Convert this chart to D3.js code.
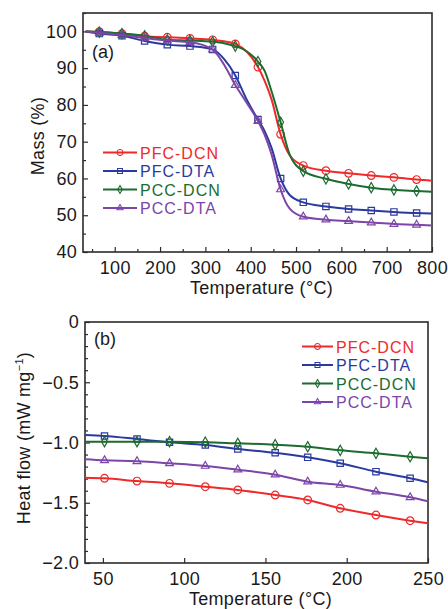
<!DOCTYPE html>
<html><head><meta charset="utf-8">
<script src="https://cdn.jsdelivr.net/npm/d3@7"></script>
<style>
html,body{margin:0;padding:0;background:#fff;}
text{font-family:"Liberation Sans",Arial,sans-serif;}
</style></head>
<body>
<svg id="chart" width="448" height="609"></svg>
<script>
// ---------- DATA ----------
const seriesNames = ["PFC-DCN", "PFC-DTA", "PCC-DCN", "PCC-DTA"];
const seriesColors = ["#ee2a2a", "#2a3a9f", "#1c6b2f", "#7c45a7"];
const seriesShapes = ["circle", "square", "diamond", "triangle"];

// Panel (a): TGA
const tempA = [36, 66, 116, 166, 216, 266, 316, 341, 366, 391, 416, 431, 446, 466, 486, 516, 566, 616, 666, 716, 766, 800];
const markerTempA = [66, 116, 166, 216, 266, 316, 366, 416, 466, 516, 566, 616, 666, 716, 766];
const massPFC_DCN = [100, 99.9, 99.4, 98.7, 98.4, 98.1, 97.7, 97.3, 96.6, 94.5, 90.3, 86.5, 81.5, 72.0, 66.3, 63.5, 62.1, 61.4, 60.8, 60.3, 59.7, 59.4];
const massPFC_DTA = [100, 99.4, 98.8, 97.4, 96.4, 96.0, 95.1, 92.5, 88.0, 81.5, 76.0, 72.8, 68.3, 60.0, 55.5, 53.5, 52.4, 51.7, 51.3, 50.9, 50.6, 50.5];
const massPCC_DCN = [100, 99.8, 99.4, 98.8, 97.7, 97.5, 97.2, 96.8, 96.0, 94.6, 91.8, 89.2, 83.7, 75.3, 66.5, 62.0, 59.9, 58.5, 57.5, 56.9, 56.6, 56.4];
const massPCC_DTA = [100, 99.6, 99.0, 98.2, 97.5, 97.1, 95.0, 91.0, 85.4, 80.6, 75.6, 71.8, 66.5, 57.0, 51.8, 49.6, 48.8, 48.4, 48.0, 47.6, 47.4, 47.2];
const xTicksA = [100, 200, 300, 400, 500, 600, 700, 800];
const yTicksA = [40, 50, 60, 70, 80, 90, 100];

// Panel (b): DSC
const tempB = [39, 51, 71, 91, 113, 133, 156, 176, 196, 218, 239, 250];
const markerTempB = [51, 71, 91, 113, 133, 156, 176, 196, 218, 239];
const heatPFC_DCN = [-1.292, -1.297, -1.320, -1.339, -1.367, -1.394, -1.436, -1.477, -1.546, -1.602, -1.649, -1.671];
const heatPFC_DTA = [-0.938, -0.946, -0.971, -0.998, -1.021, -1.054, -1.085, -1.123, -1.172, -1.242, -1.297, -1.330];
const heatPCC_DCN = [-0.993, -0.993, -0.993, -0.993, -0.997, -1.007, -1.018, -1.035, -1.065, -1.090, -1.118, -1.131];
const heatPCC_DTA = [-1.139, -1.148, -1.156, -1.173, -1.195, -1.226, -1.267, -1.325, -1.353, -1.408, -1.455, -1.488];
const xTicksB = [50, 100, 150, 200, 250];
const yTicksB = [-2.0, -1.5, -1.0, -0.5, 0];

// ---------- DRAW ----------
const svg = d3.select("#chart");
const FS = 18;
const LS = "0.3px";
const LEG_FS = 16;
const LEG_LS = "1px";
const frameColor = "#2b2b2b";

function symbolFor(shape, scale) {
  const map = {circle: [d3.symbolCircle, 46], square: [d3.symbolSquare, 40], diamond: [d3.symbolDiamond, 30], triangle: [d3.symbolTriangle, 26]};
  const m = map[shape];
  return d3.symbol().type(m[0]).size(m[1] * scale)();
}

function panel(cfg) {
  const x = d3.scaleLinear().domain(cfg.xDomain).range([cfg.left, cfg.right]);
  const y = d3.scaleLinear().domain(cfg.yDomain).range([cfg.bottom, cfg.top]);
  const g = svg.append("g");

  const xMajor = d3.axisBottom(x).tickValues(cfg.xTicks).tickSizeInner(-5).tickSizeOuter(0).tickPadding(9).tickFormat(cfg.xFmt);
  const gx = g.append("g").attr("transform", `translate(0,${cfg.bottom})`).call(xMajor);
  if (cfg.xMinor) {
    g.append("g").attr("transform", `translate(0,${cfg.bottom})`)
      .call(d3.axisBottom(x).tickValues(cfg.xMinor).tickSizeInner(-3).tickSizeOuter(0).tickFormat(""))
      .select(".domain").remove();
  }
  const yMajor = d3.axisLeft(y).tickValues(cfg.yTicks).tickSizeInner(-5).tickSizeOuter(0).tickPadding(6).tickFormat(cfg.yFmt);
  const gy = g.append("g").attr("transform", `translate(${cfg.left},0)`).call(yMajor);
  g.append("g").attr("transform", `translate(${cfg.left},0)`)
    .call(d3.axisLeft(y).tickValues(cfg.yMinor).tickSizeInner(-3).tickSizeOuter(0).tickFormat(""))
    .select(".domain").remove();
  [gx, gy].forEach(a => {
    a.select(".domain").remove();
    a.selectAll("text").attr("font-size", FS).attr("fill", "#1a1a1a").attr("letter-spacing", LS);
  });
  g.selectAll(".tick line").attr("stroke", frameColor).attr("stroke-width", 1.2);

  g.append("rect").attr("x", cfg.left).attr("y", cfg.top)
    .attr("width", cfg.right - cfg.left).attr("height", cfg.bottom - cfg.top)
    .attr("fill", "none").attr("stroke", frameColor).attr("stroke-width", 1.6);

  const line = d3.line().x(d => x(d[0])).y(d => y(d[1])).curve(d3.curveMonotoneX);
  cfg.series.forEach((vals, i) => {
    const pts = cfg.temps.map((t, j) => [t, vals[j]]);
    g.append("path").datum(pts).attr("d", line).attr("fill", "none")
      .attr("stroke", seriesColors[i]).attr("stroke-width", 2).attr("stroke-linejoin", "round");
    const mk = pts.filter(p => cfg.markerTemps.includes(p[0]));
    g.selectAll(null).data(mk).enter().append("path")
      .attr("d", symbolFor(seriesShapes[i], 1))
      .attr("transform", d => `translate(${x(d[0])},${y(d[1])})`)
      .attr("fill", "none").attr("stroke", seriesColors[i]).attr("stroke-width", 1.2);
  });

  seriesNames.forEach((n, i) => {
    const cy = cfg.legY + i * cfg.legDy;
    g.append("line").attr("x1", cfg.legX).attr("x2", cfg.legX + cfg.legW).attr("y1", cy).attr("y2", cy)
      .attr("stroke", seriesColors[i]).attr("stroke-width", 2);
    g.append("path").attr("d", symbolFor(seriesShapes[i], 0.6))
      .attr("transform", `translate(${cfg.legX + cfg.legW / 2},${cy})`)
      .attr("fill", "none").attr("stroke", seriesColors[i]).attr("stroke-width", 1.1);
    g.append("text").attr("x", cfg.legX + cfg.legW + 3).attr("y", cy + 6)
      .attr("font-size", LEG_FS).attr("letter-spacing", LEG_LS).attr("fill", seriesColors[i]).text(n);
  });

  g.append("text").attr("x", cfg.left + 9).attr("y", cfg.letterY)
    .attr("font-size", FS).attr("fill", "#1a1a1a").text(cfg.letter);

  g.append("text").attr("x", (cfg.left + cfg.right) / 2 + 4).attr("y", cfg.xTitleY)
    .attr("text-anchor", "middle").attr("font-size", FS).attr("letter-spacing", LS)
    .attr("fill", "#1a1a1a").text("Temperature (°C)");

  const yt = g.append("text").attr("transform", `translate(${cfg.yTitleX},${cfg.yTitleY}) rotate(-90)`)
    .attr("text-anchor", "middle").attr("font-size", FS).attr("letter-spacing", LS).attr("fill", "#1a1a1a");
  cfg.yTitle(yt);
}

panel({
  left: 83, right: 432, top: 13, bottom: 252,
  xDomain: [30, 800], yDomain: [40, 105],
  xTicks: xTicksA, xMinor: [50, 150, 250, 350, 450, 550, 650, 750],
  yTicks: yTicksA, yMinor: [45, 55, 65, 75, 85, 95, 105],
  xFmt: d3.format("d"), yFmt: d3.format("d"),
  temps: tempA, markerTemps: markerTempA,
  series: [massPFC_DCN, massPFC_DTA, massPCC_DCN, massPCC_DTA],
  legX: 103, legW: 34, legY: 152.5, legDy: 18.5,
  letter: "(a)", letterY: 58,
  xTitleY: 294, yTitleX: 44, yTitleY: 136,
  yTitle: t => t.text("Mass (%)")
});

panel({
  left: 85, right: 428, top: 322, bottom: 563,
  xDomain: [39, 250], yDomain: [-2, 0],
  xTicks: xTicksB, xMinor: null,
  yTicks: yTicksB, yMinor: d3.range(-1.9, 0, 0.1).map(v => +v.toFixed(1)).filter(v => Math.abs(v * 2 - Math.round(v * 2)) > 1e-6),
  xFmt: d3.format("d"), yFmt: v => v === 0 ? "0" : d3.format(".1f")(v).replace("-", "\u2212"),
  temps: tempB, markerTemps: markerTempB,
  series: [heatPFC_DCN, heatPFC_DTA, heatPCC_DCN, heatPCC_DTA],
  legX: 302, legW: 31, legY: 346.5, legDy: 18.5,
  letter: "(b)", letterY: 345,
  xTitleY: 605, yTitleX: 30, yTitleY: 438,
  yTitle: t => {
    t.append("tspan").text("Heat flow (mW mg");
    t.append("tspan").attr("font-size", 11).attr("dy", -7).text("\u22121");
    t.append("tspan").attr("dy", 7).text(")");
  }
});
</script>
</body></html>
